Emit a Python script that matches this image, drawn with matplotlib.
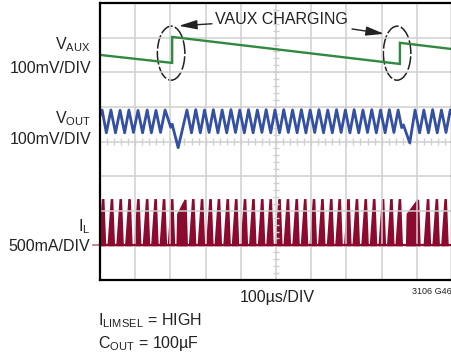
import matplotlib
matplotlib.use('Agg')
import numpy as np
import matplotlib.pyplot as plt
from matplotlib import font_manager
from matplotlib.patches import Ellipse

# ---- data (x in divisions 0..10, y in divisions 0..8) ----
vaux_t = [0.00, 2.05, 2.05, 8.52, 8.52, 10.0]
vaux_v = [6.50, 6.27, 7.02, 6.24, 6.85, 6.67]

vout_t = [0.00, 0.06, 0.18, 0.31, 0.44, 0.57, 0.70, 0.82, 0.95, 1.08,
          1.21, 1.34, 1.46, 1.59, 1.72, 1.85, 2.01, 2.05, 2.22, 2.47,
          2.60, 2.72, 2.85, 2.97, 3.10, 3.22, 3.35, 3.47, 3.60, 3.72,
          3.85, 3.97, 4.10, 4.22, 4.35, 4.47, 4.60, 4.72, 4.85, 4.97,
          5.10, 5.22, 5.35, 5.47, 5.60, 5.72, 5.85, 5.97, 6.10, 6.22,
          6.35, 6.47, 6.60, 6.72, 6.85, 6.97, 7.10, 7.22, 7.35, 7.47,
          7.60, 7.72, 7.85, 7.97, 8.10, 8.22, 8.35, 8.47, 8.57, 8.62,
          8.80, 8.95, 9.08, 9.20, 9.33, 9.45, 9.58, 9.70, 9.83, 9.95,
          10.0]
vout_v = [4.75, 4.91, 4.25, 4.91, 4.25, 4.90, 4.25, 4.91, 4.26, 4.90,
          4.25, 4.91, 4.25, 4.90, 4.26, 4.91, 4.41, 4.50, 3.82, 4.91,
          4.25, 4.92, 4.25, 4.91, 4.26, 4.92, 4.25, 4.91, 4.25, 4.92,
          4.26, 4.91, 4.25, 4.92, 4.25, 4.91, 4.26, 4.92, 4.25, 4.91,
          4.25, 4.92, 4.26, 4.91, 4.25, 4.92, 4.25, 4.91, 4.26, 4.92,
          4.25, 4.91, 4.25, 4.92, 4.26, 4.91, 4.25, 4.92, 4.25, 4.91,
          4.26, 4.92, 4.25, 4.91, 4.25, 4.92, 4.26, 4.91, 4.40, 4.48,
          3.96, 4.91, 4.25, 4.91, 4.25, 4.92, 4.25, 4.91, 4.26, 4.91,
          4.80]

il_peak_t = [0.09, 0.34, 0.59, 0.84, 1.09, 1.34, 1.58, 1.82, 2.05,
             2.65, 2.90, 3.14, 3.38, 3.63, 3.87, 4.12, 4.36, 4.61, 4.85,
             5.10, 5.34, 5.59, 5.83, 6.08, 6.32, 6.57, 6.81, 7.06, 7.30,
             7.55, 7.79, 8.04, 8.28, 8.52, 9.32, 9.57, 9.82]
il_wide_start = [2.20, 8.72]
il_wide_end = [2.47, 9.08]
il_lo = 1.00
il_hi = 2.31
il_wide_knee = 1.90

# ---- fonts ----
names = {f.name for f in font_manager.fontManager.ttflist}
if 'Liberation Sans Narrow' in names:
    FAM, FS, FS_SMALL = 'Liberation Sans Narrow', 13.5, 7.5
else:
    FAM, FS, FS_SMALL = 'Liberation Sans', 11.5, 6.5
plt.rcParams['font.family'] = [FAM, 'DejaVu Sans']
plt.rcParams['mathtext.default'] = 'regular'

W, H = 451, 358
fig = plt.figure(figsize=(W / 100, H / 100), dpi=100)
ax = fig.add_axes([100 / W, 78 / H, 352 / W, 277 / H])
ax.set_xlim(0, 10)
ax.set_ylim(0, 8)

GRID = '#cfcfcf'
ax.set_xticks(range(11))
ax.set_yticks(range(9))
ax.grid(color=GRID, lw=1.1)
ax.tick_params(length=0, labelbottom=False, labelleft=False)
for s in ax.spines.values():
    s.set_linewidth(1.6)
    s.set_color('black')

# minor ticks on the centre lines
mt = np.arange(0.2, 10, 0.2)
ax.vlines(mt, 4 - 0.09, 4 + 0.09, color=GRID, lw=1.0)
mt = np.arange(0.2, 8, 0.2)
ax.hlines(mt, 5 - 0.085, 5 + 0.085, color=GRID, lw=1.0)

GREEN = '#2f8a3f'
BLUE = '#3450a3'
RED = '#8c0a2d'

ax.plot(vaux_t, vaux_v, color=GREEN, lw=1.7, solid_joinstyle='miter')
ax.plot(vout_t, vout_v, color=BLUE, lw=2.0)

# inductor current
ax.hlines(il_lo, 0, 10, color=RED, lw=1.6)
for t in il_peak_t:
    ax.fill([t - 0.10, t - 0.01, t + 0.01, t + 0.06],
            [il_lo, il_hi, il_hi, il_lo], color=RED, lw=1.4)
for a, b in zip(il_wide_start, il_wide_end):
    ax.fill([a, a + 0.02, b - 0.04, b], [il_lo, il_wide_knee, il_hi, il_lo],
            color=RED, lw=1.5)

# ground marker for IL
ax.plot([-0.2, -0.03], [il_lo, il_lo], color='#c07088', lw=1.2, clip_on=False)

# annotation
for cx in (2.02, 8.44):
    ax.add_patch(Ellipse((cx, 6.55), 0.78, 1.56, fill=False, ec='#222222',
                         lw=1.1, ls=(0, (9, 1.5))))
ax.text(3.27, 7.51, 'VAUX CHARGING', fontsize=FS, va='center', ha='left',
        color='#222222')
arrow = dict(arrowstyle='-|>,head_length=1.1,head_width=0.28', color='#222222',
             lw=1.0, shrinkA=0, shrinkB=0, mutation_scale=10)
ax.annotate('', xy=(2.24, 7.34), xytext=(3.18, 7.40), arrowprops=arrow)
ax.annotate('', xy=(8.07, 7.11), xytext=(7.16, 7.25), arrowprops=arrow)


def ftext(px, py, s, **kw):
    kw.setdefault('fontsize', FS)
    kw.setdefault('va', 'baseline')
    fig.text(px / W, 1 - py / H, s, color='#222222', **kw)


ftext(91, 49, 'V$_{AUX}$', ha='right')
ftext(91, 73, '100mV/DIV', ha='right')
ftext(91, 123, 'V$_{OUT}$', ha='right')
ftext(91, 144, '100mV/DIV', ha='right')
ftext(90, 231, 'I$_{L}$', ha='right')
ftext(90, 251, '500mA/DIV', ha='right')
ftext(277, 302, '100µs/DIV', ha='center')
ftext(412, 294, '3106 G46', ha='left', fontsize=FS_SMALL)
ftext(98, 325, 'I$_{LIMSEL}$ = HIGH', ha='left')
ftext(98, 348, 'C$_{OUT}$ = 100µF', ha='left')

fig.savefig('out.png', dpi=100)
